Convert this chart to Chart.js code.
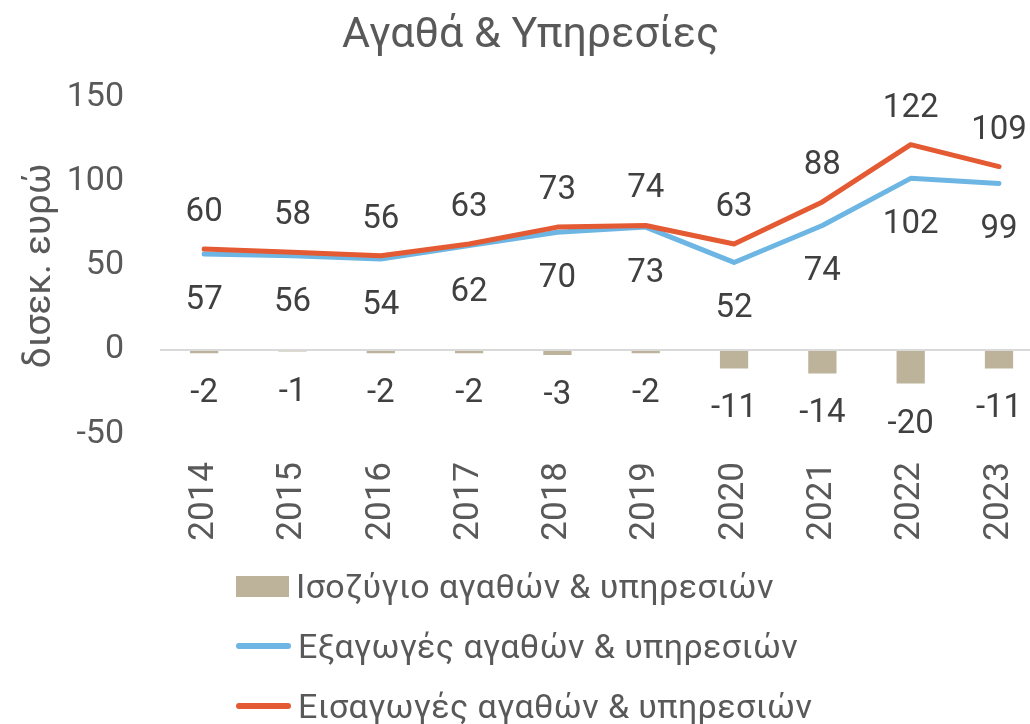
<!DOCTYPE html>
<html lang="el">
<head>
<meta charset="utf-8">
<title>Αγαθά & Υπηρεσίες</title>
<script src="https://cdn.jsdelivr.net/npm/chart.js@4/dist/chart.umd.min.js"></script>
<style>
  body { margin: 0; width: 1030px; height: 724px; overflow: hidden; background: #fff; font-family: Roboto, "Noto Sans", sans-serif; }
  #wrap { position: absolute; left: 0; top: 0; width: 1061px; height: 724px; }
  #legend { position: absolute; left: 0; top: 0; }
  .item { position: absolute; left: 236px; height: 40px; display: flex; align-items: center; font-size: 34px; letter-spacing: 0.4px; color: #595959; white-space: nowrap; }
  .box { width: 53px; height: 21px; margin-right: 7px; }
  .ln { width: 55px; height: 6px; border-radius: 3px; margin-right: 7px; }
</style>
</head>
<body>
<div id="wrap"><canvas id="chart"></canvas></div>
<div id="legend"></div>
<script>
// --- Data ---
const years = ["2014", "2015", "2016", "2017", "2018", "2019", "2020", "2021", "2022", "2023"];
const balance = [-2, -1, -2, -2, -3, -2, -11, -14, -20, -11];
const exportsGS = [57, 56, 54, 62, 70, 73, 52, 74, 102, 99];
const importsGS = [60, 58, 56, 63, 73, 74, 63, 88, 122, 109];
const yTicks = [-50, 0, 50, 100, 150];

const seriesNames = [
  "Ισοζύγιο αγαθών & υπηρεσιών",
  "Εξαγωγές αγαθών & υπηρεσιών",
  "Εισαγωγές αγαθών & υπηρεσιών"
];

const colBar = "#BDB39B";
const colExp = "#6DB6E4";
const colImp = "#E35A33";
const textCol = "#595959";
const labelCol = "#404040";
const fontFam = "Roboto, 'Noto Sans', sans-serif";

// draws value labels next to each point / bar end
const valueLabels = {
  id: "valueLabels",
  afterDatasetsDraw(chart) {
    const ctx = chart.ctx;
    ctx.save();
    ctx.font = "33px " + fontFam;
    ctx.fillStyle = labelCol;
    ctx.textAlign = "center";
    ctx.textBaseline = "alphabetic";
    chart.data.datasets.forEach((ds, i) => {
      const meta = chart.getDatasetMeta(i);
      meta.data.forEach((el, j) => {
        ctx.fillText(String(ds.data[j]), el.x, el.y + ds.labelShift);
      });
    });
    ctx.restore();
  }
};

new Chart(document.getElementById("chart"), {
  type: "bar",
  data: {
    labels: years,
    datasets: [
      {
        type: "bar",
        label: seriesNames[0],
        data: balance,
        backgroundColor: colBar,
        barPercentage: 0.32,
        categoryPercentage: 1,
        order: 3,
        labelShift: 49
      },
      {
        type: "line",
        label: seriesNames[1],
        data: exportsGS,
        borderColor: colExp,
        backgroundColor: colExp,
        borderWidth: 5,
        pointRadius: 0,
        tension: 0,
        borderCapStyle: "round",
        borderJoinStyle: "round",
        order: 2,
        labelShift: 55
      },
      {
        type: "line",
        label: seriesNames[2],
        data: importsGS,
        borderColor: colImp,
        backgroundColor: colImp,
        borderWidth: 5,
        pointRadius: 0,
        tension: 0,
        borderCapStyle: "round",
        borderJoinStyle: "round",
        order: 1,
        labelShift: -28
      }
    ]
  },
  options: {
    responsive: true,
    maintainAspectRatio: false,
    animation: false,
    layout: { padding: { left: 0, right: 0, top: 0, bottom: 178 } },
    plugins: {
      legend: { display: false },
      tooltip: { enabled: false },
      title: {
        display: true,
        text: "Αγαθά & Υπηρεσίες",
        color: textCol,
        font: { size: 43, weight: "normal", family: fontFam },
        padding: { top: 10, bottom: 36 }
      }
    },
    scales: {
      x: {
        grid: { display: false },
        border: { display: false },
        ticks: {
          color: textCol,
          font: { size: 35, family: fontFam },
          minRotation: 90,
          maxRotation: 90,
          padding: 20
        },
        afterFit(scale) { scale.height = 112; }
      },
      y: {
        min: yTicks[0],
        max: yTicks[yTicks.length - 1],
        afterBuildTicks(scale) { scale.ticks = yTicks.map(v => ({ value: v })); },
        grid: {
          color: c => (c.tick && c.tick.value === 0 ? "#D9D9D9" : "rgba(0,0,0,0)"),
          lineWidth: 2,
          drawTicks: false
        },
        border: { display: false },
        ticks: {
          color: textCol,
          font: { size: 34, family: fontFam },
          padding: 36
        },
        title: {
          display: true,
          text: "δισεκ. ευρώ",
          color: textCol,
          font: { size: 37, family: fontFam },
          padding: { top: 19, bottom: 0 }
        },
        afterFit(scale) { scale.width = 160; }
      }
    }
  },
  plugins: [valueLabels]
});

// --- Legend (vertical, below the chart) ---
const legendEl = document.getElementById("legend");
const rowsY = [566, 626, 686];
seriesNames.forEach((name, i) => {
  const row = document.createElement("div");
  row.className = "item";
  row.style.top = rowsY[i] + "px";
  const mark = document.createElement("span");
  if (i === 0) {
    mark.className = "box";
    mark.style.background = colBar;
  } else {
    mark.className = "ln";
    mark.style.background = i === 1 ? colExp : colImp;
  }
  const txt = document.createElement("span");
  txt.textContent = name;
  row.appendChild(mark);
  row.appendChild(txt);
  legendEl.appendChild(row);
});
</script>
</body>
</html>
